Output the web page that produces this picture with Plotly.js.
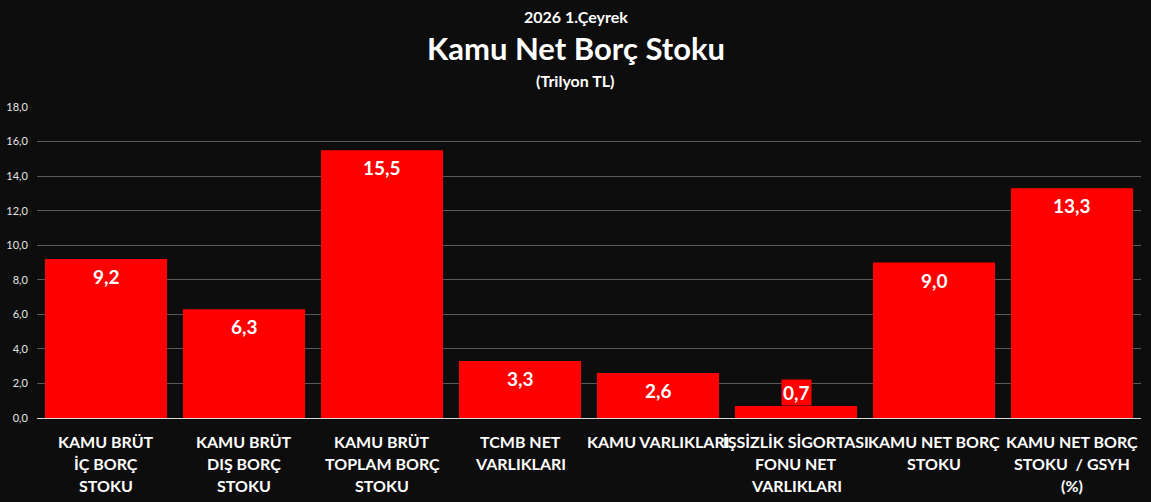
<!DOCTYPE html>
<html><head><meta charset="utf-8">
<script src="https://cdn.plot.ly/plotly-3.0.1.min.js"></script>
<style>html,body{margin:0;padding:0;background:#0d0d0d;}#c{width:1151px;height:502px;}</style>
</head><body><div id="c"></div>
<script>
const categories = [
  ["KAMU BRÜT","İÇ BORÇ","STOKU"],
  ["KAMU BRÜT","DIŞ BORÇ","STOKU"],
  ["KAMU BRÜT","TOPLAM BORÇ","STOKU"],
  ["TCMB NET","VARLIKLARI"],
  ["KAMU VARLIKLARI"],
  ["İŞSİZLİK SİGORTASI","FONU NET","VARLIKLARI"],
  ["KAMU NET BORÇ","STOKU"],
  ["KAMU NET BORÇ","STOKU  / GSYH","(%)"]
];
const values = [9.2, 6.3, 15.5, 3.3, 2.6, 0.7, 9.0, 13.3];
const valueLabels = ["9,2","6,3","15,5","3,3","2,6","0,7","9,0","13,3"];
const yTicks = [0,2,4,6,8,10,12,14,16,18];
const yTickLabels = ["0,0","2,0","4,0","6,0","8,0","10,0","12,0","14,0","16,0","18,0"];
const subTitle = "2026 1.Çeyrek";
const mainTitle = "Kamu Net Borç Stoku";
const unitTitle = "(Trilyon TL)";

const font = "Lato, 'Open Sans', sans-serif";
const xs = values.map((v,i)=>i);
const annotations = [];
values.forEach((v,i)=>{
  const small = v < 1.5;
  annotations.push({
    x: i, y: v, xref:'x', yref:'y', text: valueLabels[i], showarrow:false,
    yanchor: small ? 'bottom' : 'top', yshift: small ? 0 : -4,
    bgcolor:'#ff0000', borderpad:1,
    font:{family:font, size:19, color:'#ffffff', weight:'bold'}
  });
});
categories.forEach((lines,i)=>{
  lines.forEach((t,j)=>{
    annotations.push({x:i, y:0, xref:'x', yref:'paper', yanchor:'middle', yshift:-23-22*j,
      text:t, showarrow:false, font:{family:font, size:16, color:'#ffffff', weight:'bold'}});
  });
});
const tx = 0.488;
annotations.push(
  {xref:'paper', yref:'paper', x:tx, y:1, xanchor:'center', yanchor:'middle', yshift:91, showarrow:false, text:subTitle, font:{family:font,size:16,color:'#fff',weight:'bold'}},
  {xref:'paper', yref:'paper', x:tx, y:1, xanchor:'center', yanchor:'middle', yshift:59, showarrow:false, text:mainTitle, font:{family:font,size:31,color:'#fff',weight:'bold'}},
  {xref:'paper', yref:'paper', x:tx, y:1, xanchor:'center', yanchor:'middle', yshift:27, showarrow:false, text:unitTitle, font:{family:font,size:16,color:'#fff',weight:'bold'}}
);

Plotly.newPlot('c', [{
  type:'bar', x: xs, y: values,
  marker:{color:'#ff0000'}, hoverinfo:'none'
}], {
  width:1151, height:502,
  paper_bgcolor:'#0d0d0d', plot_bgcolor:'#0d0d0d',
  margin:{l:37, r:10, t:107, b:84},
  bargap:0.115,
  showlegend:false,
  xaxis:{range:[-0.5,7.5], showgrid:false, zeroline:false, showline:false, ticks:'', showticklabels:false},
  yaxis:{range:[0,18], tickmode:'array', tickvals:yTicks, ticktext:yTickLabels,
    showgrid:true, gridcolor:'#595959', gridwidth:1, zeroline:true, zerolinecolor:'#d9d9d9', zerolinewidth:1,
    tickfont:{family:font, size:11, color:'#e6e6e6'}, ticks:'', ticklabelstandoff:8, automargin:false},
  annotations: annotations
}, {staticPlot:true});
</script></body></html>
